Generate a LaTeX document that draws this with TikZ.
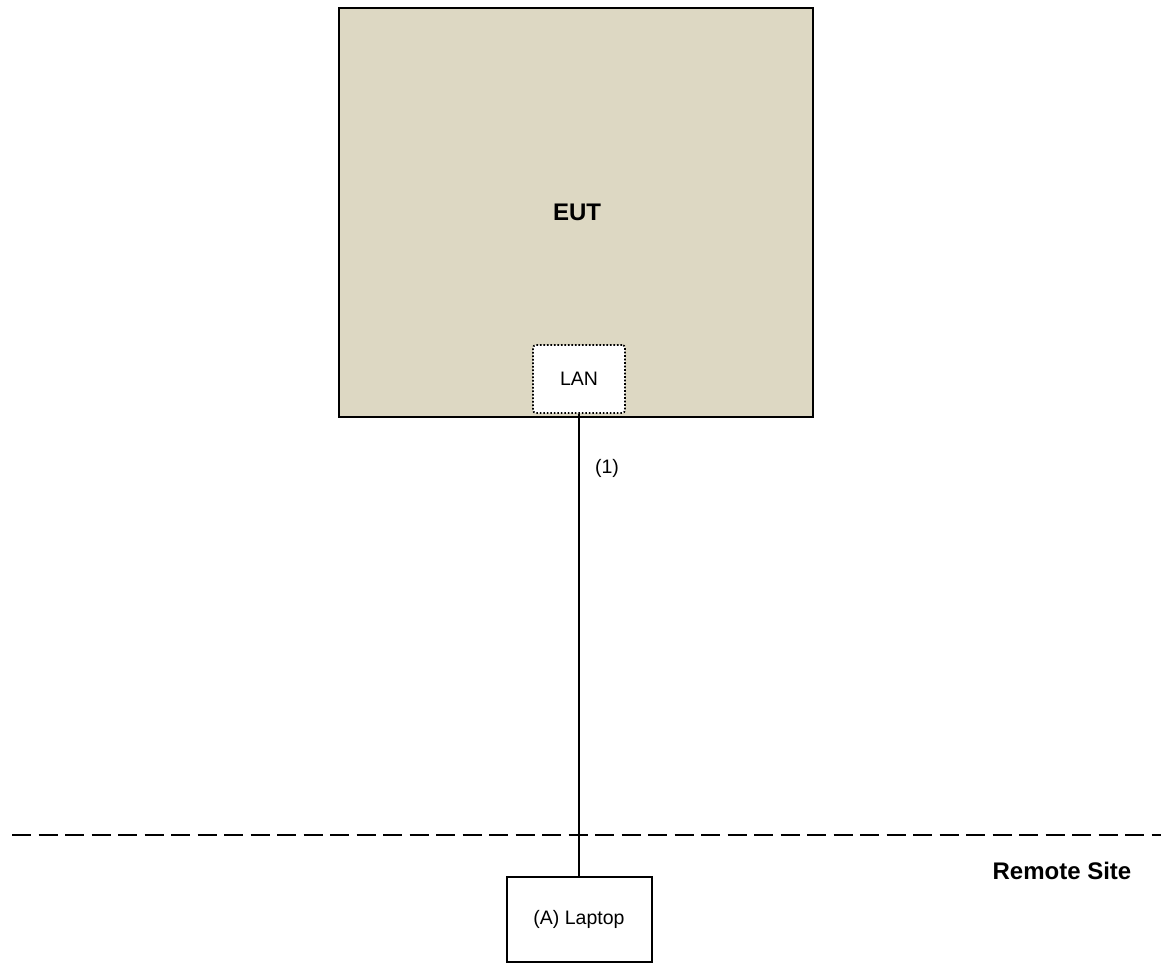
\documentclass[tikz,border=0pt]{standalone}
\usepackage{fontspec}
\setmainfont{Liberation Sans}
\definecolor{eutfill}{RGB}{221,216,195}
\begin{document}
\begin{tikzpicture}[x=1pt,y=-1pt,
  lbl/.style={font=\fontsize{19.5}{23}\selectfont, inner sep=0pt},
  blbl/.style={font=\fontsize{24}{28}\selectfont\bfseries, inner sep=0pt},
  eutbox/.style={draw=black, line width=2.5pt, fill=eutfill, inner sep=0pt},
  portbox/.style={draw=black, fill=white, line width=1.8pt, dash pattern=on 1.6pt off 1.9pt, rounded corners=3pt, inner sep=0pt},
  devbox/.style={draw=black, line width=2pt, fill=white, inner sep=0pt},
  cable/.style={draw=black, line width=2pt},
  sitesep/.style={draw=black, line width=2.2pt, dash pattern=on 19pt off 7.5pt}]
\useasboundingbox (0,0) rectangle (1161,963);
\node[eutbox, minimum width=474pt, minimum height=409pt] (eut) at (576,212.5) {};
\node[blbl] (euttxt) at (577,212.5) {EUT};
\node[portbox, minimum width=92pt, minimum height=68pt] (lan) at (579,379) {};
\node[lbl] (lantxt) at (579,379) {LAN};
\node[devbox, minimum width=145pt, minimum height=85pt] (laptop) at (579,919) {};
\node[lbl] (laptoptxt) at (579,919) {(A) Laptop};
\coordinate (sepL) at (12,835);
\coordinate (sepR) at (1161,835);
\draw[sitesep] (sepL) -- (sepR);
\draw[cable] (lan.south) -- (laptop.north);
\node[lbl] (c1) at (607,468) {(1)};
\node[blbl] (remote) at (1062,870.5) {Remote Site};
\end{tikzpicture}
\end{document}
